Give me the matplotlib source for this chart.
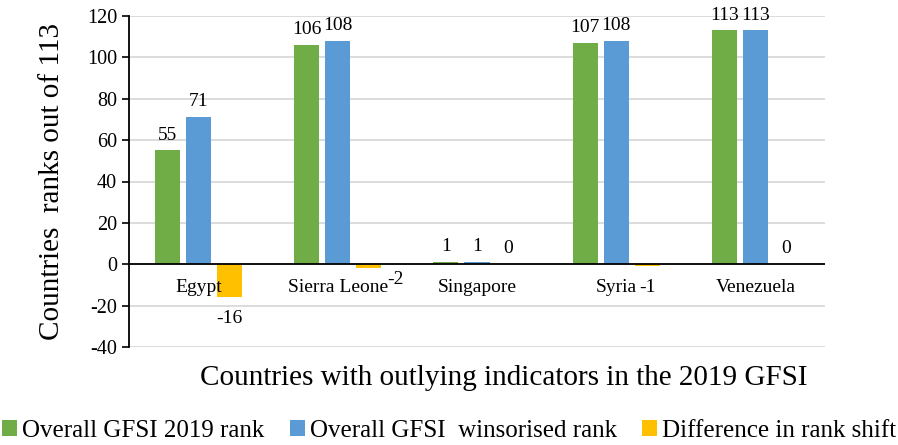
import matplotlib.pyplot as plt
import numpy as np

plt.rcParams['font.family'] = ['Liberation Serif', 'DejaVu Serif']
plt.rcParams['axes.unicode_minus'] = False

countries = ['Egypt', 'Sierra Leone', 'Singapore', 'Syria', 'Venezuela']
gfsi_rank = [55, 106, 1, 107, 113]
winsor_rank = [71, 108, 1, 108, 113]
rank_shift = [-16, -2, 0, -1, 0]

series = [
    ('Overall GFSI 2019 rank', gfsi_rank, '#70AD47'),
    ('Overall GFSI  winsorised rank', winsor_rank, '#5B9BD5'),
    ('Difference in rank shift', rank_shift, '#FFC000'),
]
# label nudges (points) for the negative labels, as placed in the original
neg_nudge = {1: (19, -8)}

fig = plt.figure(figsize=(8.98, 4.45), dpi=100)
ax = fig.add_axes([129 / 898, 1 - 347 / 445, 696 / 898, 331 / 445])

x = np.arange(len(countries))
w = 0.18
step = 0.223
for k, (name, vals, col) in enumerate(series):
    pos = x + (k - 1) * step
    ax.bar(pos, vals, width=w, color=col, label=name, zorder=3)
    for i, (p, v) in enumerate(zip(pos, vals)):
        if v >= 0:
            ax.annotate(str(v), (p, v), xytext=(0, 5), textcoords='offset points',
                        ha='center', va='bottom', fontsize=14)
        else:
            off = neg_nudge.get(i, (0, -15))
            ax.annotate(str(v), (p, v), xytext=off, textcoords='offset points',
                        ha='center', va='center', fontsize=14)

# category names just under the zero line
for i, c in enumerate(countries):
    ax.annotate(c, (i, 0), xytext=(0, -17), textcoords='offset points',
                ha='center', va='center', fontsize=14)

ax.set_xlim(-0.5, len(countries) - 0.5)
ax.set_ylim(-40, 120)
ax.set_yticks(np.arange(-40, 121, 20))
ax.set_xticks([])
ax.tick_params(axis='y', labelsize=14.5, length=5, width=1.2, color='black')
ax.grid(axis='y', color='#D9D9D9', lw=1.3, zorder=0)
ax.axhline(0, color='black', lw=1.3, zorder=4)
for s in ['top', 'right', 'bottom']:
    ax.spines[s].set_visible(False)
ax.spines['left'].set_linewidth(1.3)
ax.spines['left'].set_color('black')

ax.set_ylabel('Countries  ranks out of 113', fontsize=21, labelpad=16)
fig.text(504 / 898, 1 - 378 / 445, 'Countries with outlying indicators in the 2019 GFSI',
         ha='center', va='center', fontsize=21)

fig.legend(loc='center', bbox_to_anchor=(0.5, 1 - 431 / 445), ncol=3, frameon=False,
           fontsize=18, handlelength=0.6, handleheight=0.6, handletextpad=0.2,
           columnspacing=1.0)

fig.savefig('out.png', dpi=100)
